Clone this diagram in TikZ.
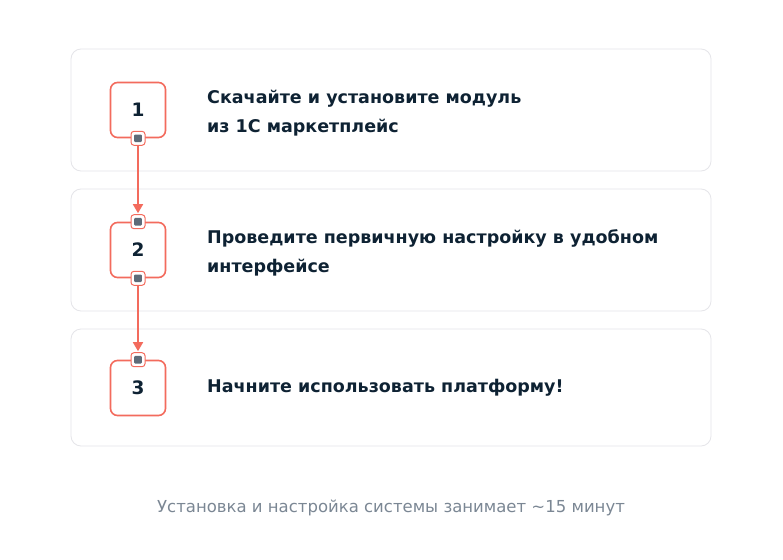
\documentclass[tikz,border=0pt]{standalone}
\usepackage{fontspec}
\setmainfont{DejaVu Sans}
\usetikzlibrary{arrows.meta}
\definecolor{salmon}{HTML}{F36B5D}
\definecolor{cardline}{HTML}{E5E5E9}
\definecolor{ink}{HTML}{0E2233}
\definecolor{handlefill}{HTML}{5E6B78}
\definecolor{foot}{HTML}{7B8794}
\tikzset{
  card/.style={draw=cardline, line width=0.8pt, fill=white, rounded corners=10pt},
  numbox/.style={draw=salmon, line width=1.6pt, rounded corners=7pt, minimum width=55pt, minimum height=55pt, inner sep=0pt, font=\fontsize{18.5}{20}\selectfont\bfseries, text=ink},
  handle/.style={draw=salmon, line width=1pt, fill=white, rounded corners=3pt, minimum width=14pt, minimum height=14pt, inner sep=0pt, path picture={\fill[handlefill, rounded corners=1pt] ([xshift=-3.8pt,yshift=-3.8pt]path picture bounding box.center) rectangle ([xshift=3.8pt,yshift=3.8pt]path picture bounding box.center);}},
  label/.style={anchor=west, align=left, inner sep=0pt, text=ink, font=\fontsize{17.5}{29}\selectfont\bfseries},
  conn/.style={draw=salmon, line width=1.6pt, -{Triangle[length=9pt,width=10pt]}},
}
\begin{document}
\begin{tikzpicture}[x=1pt,y=-1pt]
\useasboundingbox (0,0) rectangle (783,559);
\fill[white] (0,0) rectangle (783,559);
% soft shadow
\foreach \i in {0,...,24} {
  \fill[black, opacity=0.0018, rounded corners=30pt] (71-\i*1.6, 60-\i*1.0) rectangle (711+\i*1.9, 446+\i*1.2);
}
% cards
\path[card] (71,49) rectangle (711,171);
\path[card] (71,189) rectangle (711,311);
\path[card] (71,329) rectangle (711,446);
% number boxes
\node[numbox] (b1) at (138,110) {1};
\node[numbox] (b2) at (138,250) {2};
\node[numbox] (b3) at (138,388) {3};
% handles
\node[handle] (h1s) at (b1.south) {};
\node[handle] (h2n) at (b2.north) {};
\node[handle] (h2s) at (b2.south) {};
\node[handle] (h3n) at (b3.north) {};
% connectors
\draw[conn] (h1s.south) -- ([yshift=1pt]h2n.north);
\draw[conn] (h2s.south) -- ([yshift=1pt]h3n.north);
% labels
\node[label] (t1) at (207,113) {Скачайте и установите модуль\\из 1С маркетплейс};
\node[label] (t2) at (207,253) {Проведите первичную настройку в удобном\\интерфейсе};
\node[label] (t3) at (207,388) {Начните использовать платформу!};
% footer
\node[text=foot, font=\fontsize{16.5}{20}\selectfont, inner sep=0pt] (foot) at (391,508) {Установка и настройка системы занимает \textasciitilde15 минут};
\end{tikzpicture}
\end{document}
